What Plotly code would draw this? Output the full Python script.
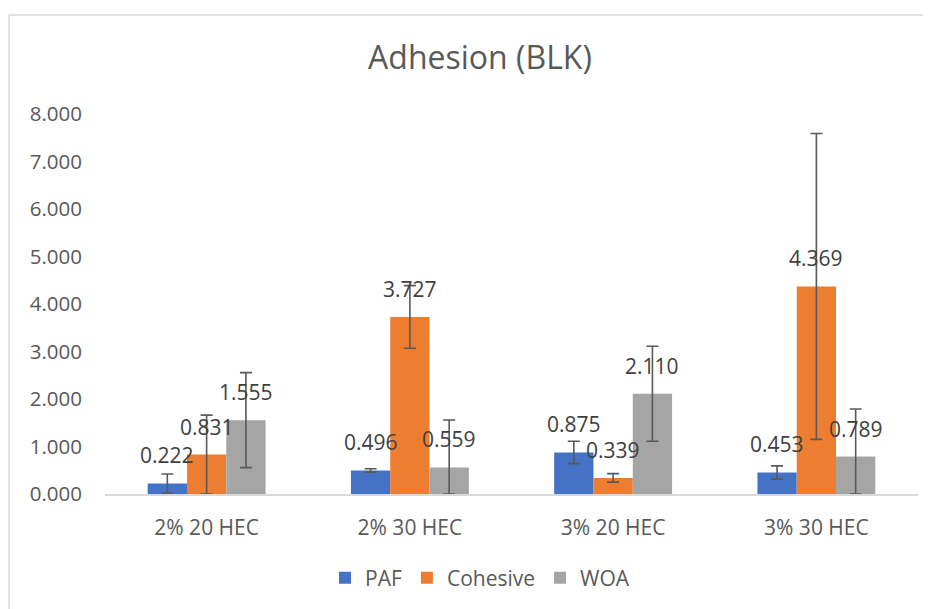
import plotly.graph_objects as go

categories = ["2% 20 HEC", "2% 30 HEC", "3% 20 HEC", "3% 30 HEC"]
paf = [0.222, 0.496, 0.875, 0.453]
cohesive = [0.831, 3.727, 0.339, 4.369]
woa = [1.555, 0.559, 2.110, 0.789]

# error bar sizes
paf_err = [0.20, 0.035, 0.235, 0.14]
cohesive_err = [0.83, 0.66, 0.09, 3.22]
woa_err = [1.0, 1.0, 1.0, 1.0]

series = [
    ("PAF", paf, paf_err, "#4472C4"),
    ("Cohesive", cohesive, cohesive_err, "#ED7D31"),
    ("WOA", woa, woa_err, "#A5A5A5"),
]

FONT = "Open Sans"
# page body has an 8px margin, so the figure is a bit smaller than the window
W, H = 923, 601
L, R, T, B = 97, 13, 106, 115
BARGAP = 0.42

fig = go.Figure()
for name, vals, errs, color in series:
    fig.add_trace(go.Bar(
        name=name, x=categories, y=vals,
        marker=dict(color=color, line=dict(width=0)),
        cliponaxis=False,
        error_y=dict(
            type="data", symmetric=False, array=errs,
            # excel clips the lower whisker at the axis
            arrayminus=[min(e, v) for e, v in zip(errs, vals)],
            color="#595959", thickness=1.6, width=6,
        ),
    ))

pw = W - L - R
ph = H - T - B
bw = pw / len(categories) * (1 - BARGAP) / len(series)

# data labels above each bar
for i, (name, vals, errs, color) in enumerate(series):
    for cat, v in zip(categories, vals):
        fig.add_annotation(x=cat, y=v, text=f"{v:.3f}", showarrow=False,
                           xanchor="center", yanchor="bottom",
                           xshift=(i - 1) * bw, yshift=12,
                           font=dict(family=FONT, size=21, color="#404040"))

# chart frame (left and top edges visible)
fig.add_shape(type="line", xref="paper", yref="paper",
              x0=(1 - L) / pw, x1=(1 - L) / pw, y0=(H - B - 7) / ph, y1=-1,
              line=dict(color="#D9D9D9", width=1.5))
fig.add_shape(type="line", xref="paper", yref="paper",
              x0=(1 - L) / pw, x1=1.2, y0=(H - B - 7) / ph, y1=(H - B - 7) / ph,
              line=dict(color="#D9D9D9", width=1.5))

fig.update_layout(
    width=W, height=H,
    margin=dict(l=L, r=R, t=T, b=B),
    paper_bgcolor="white", plot_bgcolor="white",
    barmode="group", bargap=BARGAP, bargroupgap=0,
    font=dict(family=FONT, color="#595959"),
    title=dict(text="Adhesion (BLK)", x=472 / W, xref="container", xanchor="center",
               y=1 - 50 / H, yanchor="middle",
               font=dict(family=FONT, size=32, color="#595959")),
    legend=dict(orientation="h", x=472 / W, xref="container", xanchor="center",
                y=1 - 570 / H, yref="container", yanchor="middle",
                font=dict(family=FONT, size=21, color="#595959"),
                itemwidth=30, traceorder="normal"),
)
fig.update_yaxes(range=[0, 8], dtick=1, tickformat=".3f", showgrid=False,
                 zeroline=False, showline=False, ticks="",
                 ticklabelstandoff=22,
                 tickfont=dict(family=FONT, size=20.5, color="#595959"))
fig.update_xaxes(showline=True, linecolor="#D9D9D9", linewidth=1.5,
                 showgrid=False, ticks="", ticklabelstandoff=14,
                 tickfont=dict(family=FONT, size=21, color="#595959"))

fig.write_html("out.html")
